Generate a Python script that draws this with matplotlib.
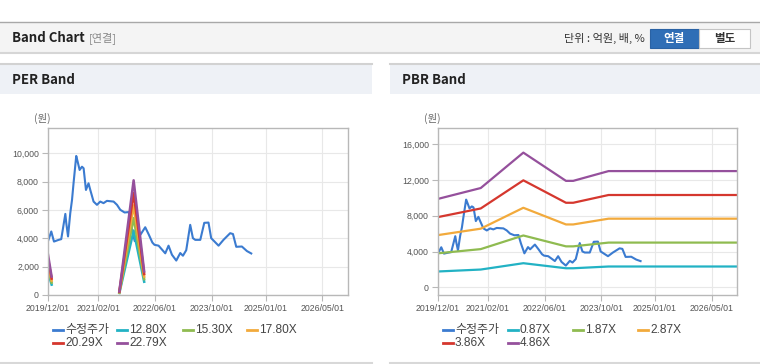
import matplotlib
matplotlib.use('Agg')
import numpy as np
import pandas as pd
import matplotlib.pyplot as plt
import matplotlib.dates as mdates
from matplotlib.patches import Rectangle
from matplotlib.lines import Line2D

plt.rcParams['font.family'] = ['Liberation Sans', 'Noto Sans CJK KR']

W, H = 760, 364

# 수정주가 (adjusted price)
price_dates = ['2019-12-01', '2019-12-29', '2020-01-21', '2020-03-01', '2020-03-23',
               '2020-04-27', '2020-05-05', '2020-05-20', '2020-06-08', '2020-06-23',
               '2020-07-06', '2020-07-29', '2020-08-10', '2020-08-27', '2020-09-16',
               '2020-09-30', '2020-10-20', '2020-11-11', '2020-11-26', '2020-12-24',
               '2021-01-22', '2021-02-19', '2021-03-19', '2021-04-17', '2021-06-13',
               '2021-07-12', '2021-08-09', '2021-09-15', '2021-10-20', '2021-11-10',
               '2021-12-10', '2022-01-10', '2022-01-28', '2022-03-10', '2022-04-10',
               '2022-05-10', '2022-05-28', '2022-07-02', '2022-08-28', '2022-09-25',
               '2022-10-24', '2022-11-30', '2023-01-03', '2023-01-26', '2023-02-23',
               '2023-03-29', '2023-04-21', '2023-05-11', '2023-06-23', '2023-07-27',
               '2023-09-01', '2023-09-24', '2023-11-26', '2024-01-07', '2024-03-04',
               '2024-03-28', '2024-04-25', '2024-06-12', '2024-07-25', '2024-08-31']
price = [3800, 4480, 3770, 3890, 3940,
         5720, 5070, 4130, 5770, 6710,
         7880, 9810, 9410, 8820, 9050,
         8940, 7410, 7880, 7410, 6590,
         6360, 6590, 6480, 6640, 6590,
         6360, 6010, 5820, 5850, 4920,
         3800, 4500, 4250, 4780, 4250,
         3700, 3540, 3480, 2940, 3480,
         2840, 2430, 2960, 2770, 3160,
         4950, 4010, 3890, 3890, 5090,
         5110, 4010, 3480, 3890, 4360,
         4300, 3400, 3420, 3100, 2930]

# EPS (NaN = 적자 구간)
eps_dates = ['2019-12-01', '2020-01-01', '2020-06-01', '2021-08-01', '2021-12-01', '2022-03-01']
eps = [125, 57, np.nan, 11, 355, 73]
per_mult = [12.80, 15.30, 17.80, 20.29, 22.79]

# BPS
bps_dates = ['2019-12-01', '2020-12-01', '2021-12-01', '2022-12-01', '2023-02-01',
             '2023-12-01', '2026-12-01']
bps = [2035, 2285, 3100, 2450, 2450, 2675, 2675]
pbr_mult = [0.87, 1.87, 2.87, 3.86, 4.86]

band_colors = ['#22b2c4', '#8fbb50', '#f2aa3c', '#d5372e', '#95509c']
price_color = '#3b7bd0'

tick_dates = ['2019-12-01', '2021-02-01', '2022-06-01', '2023-10-01', '2025-01-01', '2026-05-01']
tick_labels = [d.replace('-', '/') for d in tick_dates]
x_start, x_end = '2019-12-01', '2026-12-05'


def fx(px):
    return px / W


def fy(py):
    return 1 - py / H


def rect(l, t, r, b, **kw):
    fig.patches.append(Rectangle((fx(l), fy(b)), fx(r) - fx(l), fy(t) - fy(b),
                                 transform=fig.transFigure, **kw))


def hline(x0, x1, y, color, lw=1):
    fig.lines.append(Line2D([fx(x0), fx(x1)], [fy(y), fy(y)], transform=fig.transFigure,
                            color=color, lw=lw))


def setup(ax, ylim, yticks):
    ax.set_xlim(pd.Timestamp(x_start), pd.Timestamp(x_end))
    ax.set_ylim(*ylim)
    ax.set_yticks(yticks)
    ax.set_yticklabels([f'{v:,}' for v in yticks])
    ax.set_xticks(pd.to_datetime(tick_dates))
    ax.set_xticklabels(tick_labels)
    ax.grid(True, color='#e8e8e8', lw=0.8)
    ax.set_axisbelow(True)
    for s in ax.spines.values():
        s.set_color('#b8b8b8')
        s.set_linewidth(1)
    ax.tick_params(length=4, width=0.8, color='#b8b8b8', labelsize=6.3,
                   labelcolor='#555555', pad=2.5)


def legend(xs, ys, labels, colors):
    for x, y, lab, c in zip(xs, ys, labels, colors):
        hline(x, x + 10, y, c, lw=2)
        fig.text(fx(x + 12), fy(y), lab, fontsize=8.6, color='#444444', va='center', ha='left')


fig = plt.figure(figsize=(W / 100, H / 100), dpi=100)
fig.patch.set_facecolor('white')

# header
rect(0, 22, 760, 52, facecolor='#f4f4f4', edgecolor='none')
hline(0, 760, 22, '#a8a8a8')
hline(0, 760, 52.5, '#d6d6d6', lw=1.5)
fig.text(fx(12), fy(38), 'Band Chart', fontsize=9.5, fontweight='bold', color='#222222',
         family=['Noto Sans CJK KR'], va='center')
fig.text(fx(89), fy(38), '[연결]', fontsize=8, color='#888888', family=['Noto Sans CJK KR'], va='center')
fig.text(fx(645), fy(38), '단위 : 억원, 배, %', fontsize=8, color='#333333',
         family=['Noto Sans CJK KR'], va='center', ha='right')
rect(650, 29, 699, 48, facecolor='#2f6eb6', edgecolor='#2a62a4', lw=0.8)
rect(699, 29, 750, 48, facecolor='white', edgecolor='#c4c4c4', lw=0.8)
fig.text(fx(674.5), fy(38.5), '연결', fontsize=8.3, fontweight='bold', color='white',
         family=['Noto Sans CJK KR'], va='center', ha='center')
fig.text(fx(724.5), fy(38.5), '별도', fontsize=8.3, fontweight='bold', color='#333333',
         family=['Noto Sans CJK KR'], va='center', ha='center')

# panels
for (l, r, title) in [(0, 372, 'PER Band'), (390, 760, 'PBR Band')]:
    rect(l, 63, r, 94, facecolor='#eef1f6', edgecolor='none')
    hline(l, r, 63.5, '#d2d2d2', lw=1.5)
    hline(l, r, 362.5, '#d8d8d8', lw=1.5)
    fig.text(fx(l + 12), fy(80), title, fontsize=9.5, fontweight='bold', color='#222222',
             family=['Noto Sans CJK KR'], va='center')

pd_price = pd.to_datetime(price_dates)

# PER
ax1 = fig.add_axes([fx(48), fy(295), fx(348) - fx(48), fy(128) - fy(295)])
ax1.plot(pd_price, price, color=price_color, lw=1.5)
for m, c in zip(per_mult, band_colors):
    ax1.plot(pd.to_datetime(eps_dates), np.array(eps) * m, color=c, lw=1.8)
setup(ax1, (0, 11780), [0, 2000, 4000, 6000, 8000, 10000])
fig.text(fx(42), fy(118), '(원)', fontsize=7.5, color='#666666', family=['Noto Sans CJK KR'],
         va='center', ha='center')
legend([53, 117, 183, 247, 53, 117], [330, 330, 330, 330, 343, 343],
       ['수정주가'] + [f'{m:.2f}X' for m in per_mult], [price_color] + band_colors)

# PBR
ax2 = fig.add_axes([fx(438), fy(295), fx(737) - fx(438), fy(128) - fy(295)])
ax2.plot(pd_price, price, color=price_color, lw=1.5)
for m, c in zip(pbr_mult, band_colors):
    ax2.plot(pd.to_datetime(bps_dates), np.array(bps) * m, color=c, lw=1.6)
setup(ax2, (-860, 17820), [0, 4000, 8000, 12000, 16000])
fig.text(fx(432), fy(118), '(원)', fontsize=7.5, color='#666666', family=['Noto Sans CJK KR'],
         va='center', ha='center')
legend([443, 508, 573, 638, 443, 508], [330, 330, 330, 330, 343, 343],
       ['수정주가'] + [f'{m:.2f}X' for m in pbr_mult], [price_color] + band_colors)

fig.savefig('out.png', dpi=100)
